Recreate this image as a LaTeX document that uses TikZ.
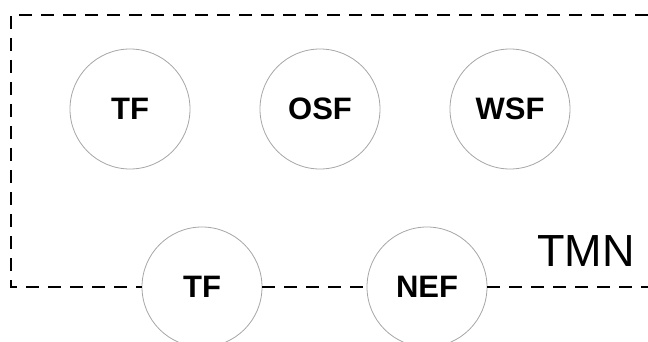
\documentclass[tikz,border=0pt]{standalone}
\usepackage{fontspec}
\setmainfont{Liberation Sans}
\begin{document}
\begin{tikzpicture}[x=1pt,y=-1pt,
        func/.style={circle,draw=gray!70,line width=0.8pt,minimum size=120pt,inner sep=0pt,
                     font=\fontsize{31}{31}\selectfont\bfseries},
        border/.style={line width=2.4pt,dash pattern=on 13pt off 9pt}]
        \useasboundingbox (0,0) rectangle (648,342);

        \coordinate (TL) at (11,15);
        \coordinate (TR) at (648,15);
        \coordinate (BL) at (11,287);
        \coordinate (BR) at (648,287);

        \node [func] (tfa) at (130,109) {TF};
        \node [func] (osf) at (320,109) {OSF};
        \node [func] (wsf) at (510,109) {WSF};
        \node [func] (tfb) at (202,287) {TF};
        \node [func] (nef) at (427,287) {NEF};

        \node (tmn) at (586,251) {\fontsize{45}{45}\selectfont TMN};

        \draw [border] (TR) -- (TL) -- (BL) -- (tfb.west);
        \draw [border,line width=2pt] (tfb.east) -- (nef.west);
        \draw [border,line width=2pt] (nef.east) -- (BR);
    \end{tikzpicture}
\end{document}
